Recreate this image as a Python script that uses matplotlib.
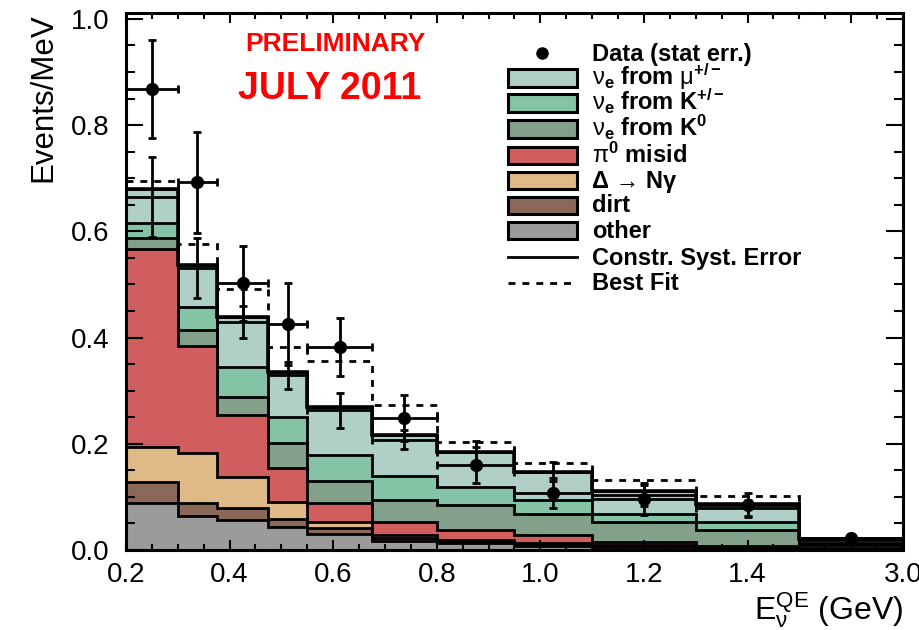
import numpy as np
import matplotlib
matplotlib.use('Agg')
from matplotlib import pyplot as plt
from matplotlib.patches import Rectangle
from matplotlib.lines import Line2D

plt.rcParams['font.family'] = ['Liberation Sans', 'DejaVu Sans']
plt.rcParams['mathtext.fontset'] = 'custom'
plt.rcParams['mathtext.rm'] = 'Liberation Sans'
plt.rcParams['mathtext.bf'] = 'Liberation Sans:bold'
plt.rcParams['mathtext.it'] = 'Liberation Sans:italic'

# bin edges in GeV (last bin 1.5-3.0 is squeezed on the axis)
edges = [0.2, 0.3, 0.375, 0.475, 0.55, 0.675, 0.8, 0.95, 1.1, 1.3, 1.5, 3.0]

# stacked MC components (Events/MeV), bottom to top
other = [0.088, 0.064, 0.056, 0.043, 0.031, 0.017, 0.013, 0.008, 0.005, 0.003, 0.001]
dirt = [0.040, 0.024, 0.023, 0.015, 0.010, 0.006, 0.003, 0.003, 0.002, 0.001, 0.0005]
delta = [0.066, 0.094, 0.058, 0.032, 0.012, 0.005, 0.003, 0.003, 0.002, 0.001, 0.0005]
pi0 = [0.372, 0.203, 0.117, 0.064, 0.035, 0.025, 0.019, 0.014, 0.006, 0.003, 0.001]
nue_k0 = [0.021, 0.030, 0.034, 0.047, 0.042, 0.042, 0.047, 0.040, 0.037, 0.030, 0.007]
nue_kpm = [0.029, 0.042, 0.056, 0.049, 0.048, 0.044, 0.033, 0.027, 0.015, 0.014, 0.004]
nue_mu = [0.064, 0.080, 0.094, 0.085, 0.092, 0.077, 0.066, 0.052, 0.044, 0.034, 0.006]

# constrained systematic error on the prediction
syst_center = [0.665, 0.531, 0.429, 0.329, 0.263, 0.208, 0.184, 0.147, 0.103, 0.079, 0.018]
syst_err = [0.075, 0.057, 0.030, 0.025, 0.033, 0.018, 0.022, 0.018, 0.020, 0.015, 0.005]

best_fit = [0.695, 0.577, 0.492, 0.382, 0.355, 0.273, 0.203, 0.163, 0.132, 0.102, 0.021]

data = [0.868, 0.692, 0.502, 0.425, 0.382, 0.248, 0.160, 0.107, 0.096, 0.085, 0.022]
data_err = [0.093, 0.095, 0.070, 0.077, 0.055, 0.043, 0.033, 0.028, 0.031, 0.022, 0.004]

names = ['other', 'dirt', 'Δ → Nγ',
         r'$\mathrm{\pi}^{\mathbf{0}}$ misid',
         r'$\mathrm{\nu}_{\mathbf{e}}$ from K$^{\mathbf{0}}$',
         r'$\mathrm{\nu}_{\mathbf{e}}$ from K$^{\mathbf{+/-}}$',
         r'$\mathrm{\nu}_{\mathbf{e}}$ from $\mathrm{\mu}^{\mathbf{+/-}}$']
colors = ['#9b9b9b', '#8b6858', '#dfba87', '#d05e5f', '#83a08b', '#84c3a5', '#b0cfc6']


def forward(e):
    e = np.asarray(e, dtype=float)
    return np.where(e <= 1.5, e, 1.5 + (e - 1.5) * 0.2 / 1.5)


def inverse(u):
    u = np.asarray(u, dtype=float)
    return np.where(u <= 1.5, u, 1.5 + (u - 1.5) * 7.5)


def px(x, y):
    # pixel position (from top-left) -> figure fraction
    return x / 920, 1 - y / 630


fig = plt.figure(figsize=(9.2, 6.3), dpi=100)
ax = fig.add_axes([126 / 920, 80 / 630, 777 / 920, 537 / 630])
ax.set_xscale('function', functions=(forward, inverse))

edges_a = np.array(edges)
centers = (edges_a[:-1] + edges_a[1:]) / 2
half = [centers - edges_a[:-1], edges_a[1:] - centers]

comps = [other, dirt, delta, pi0, nue_k0, nue_kpm, nue_mu]
base = np.zeros(len(centers))
for vals, c in zip(comps, colors):
    top = base + np.array(vals)
    ax.stairs(top, edges, baseline=base.copy(), fill=True, color=c, zorder=1)
    ax.stairs(top, edges, baseline=None, color='black', lw=2, zorder=2)
    base = top

ax.stairs(base, edges, baseline=None, color='black', lw=2.6, zorder=3)
ax.stairs(best_fit, edges, baseline=None, color='black', lw=2, ls=(0, (2.5, 2.5)), zorder=3)

ax.errorbar(centers, syst_center, yerr=syst_err, xerr=half, fmt='none', ecolor='black',
            elinewidth=2, capsize=3, capthick=2, zorder=4)
ax.errorbar(centers, data, yerr=data_err, xerr=half, fmt='o', color='black', ms=8.5,
            elinewidth=2, capsize=3, capthick=2, zorder=5)

ax.set_xlim(0.2, 3.0)
ax.set_ylim(0, 1.011)

major_u = np.round(np.arange(0.2, 1.71, 0.2), 2)
ax.set_xticks(inverse(np.round(np.arange(0.2, 1.701, 0.05), 3)), minor=True)
ax.set_xticks(list(inverse(major_u)) + [3.0])
ax.set_xticklabels(['0.2', '0.4', '0.6', '0.8', '1.0', '1.2', '1.4', '', '3.0'])
ax.set_yticks([0, 0.2, 0.4, 0.6, 0.8, 1.0])
ax.set_yticklabels(['0.0', '0.2', '0.4', '0.6', '0.8', '1.0'])
ax.set_yticks(np.arange(0, 1.01, 0.05), minor=True)

ax.tick_params(which='both', direction='in', top=True, right=True, width=1.5, labelsize=20)
ax.tick_params(axis='x', which='major', length=7, pad=9)
ax.tick_params(axis='x', which='minor', length=4)
ax.tick_params(axis='y', which='major', length=12, pad=12)
ax.tick_params(axis='y', which='minor', length=6.5)
for s in ax.spines.values():
    s.set_linewidth(2.2)
    s.set_zorder(6)

ax.set_ylabel('Events/MeV', fontsize=22.5, loc='top', labelpad=9)
ax.set_xlabel(r'E$_{\mathrm{\nu}}^{\mathrm{QE}}$ (GeV)', fontsize=23, loc='right', labelpad=1)

fig.text(*px(335, 44), 'PRELIMINARY', color='red', fontsize=19,
         fontweight='bold', ha='center', va='center')
fig.text(*px(330, 89), 'JULY 2011', color='red', fontsize=27,
         fontweight='bold', ha='center', va='center')

# legend drawn by hand so the rows keep an even spacing
row_y = [53, 78, 103, 129, 155, 180, 205, 230, 257, 283]
x0, x1, tx = 508, 577, 592
labels = ['Data (stat err.)'] + names[::-1] + ['Constr. Syst. Error', 'Best Fit']
for i, (y, lab) in enumerate(zip(row_y, labels)):
    if i == 0:
        fig.add_artist(Line2D([px(542, y)[0]], [px(542, y)[1]], marker='o', color='black', ms=8))
    elif i <= 7:
        c = colors[::-1][i - 1]
        xa, ya = px(x0, y + 8.5)
        fig.add_artist(Rectangle((xa, ya), (x1 - x0) / 920, 17 / 630, facecolor=c,
                                 edgecolor='black', lw=2.2))
    else:
        ls = '-' if i == 8 else (0, (2.5, 2.5))
        fig.add_artist(Line2D([x0 / 920, x1 / 920], [px(0, y)[1]] * 2, color='black',
                              lw=2, ls=ls))
    fig.text(*px(tx, y + 7.5), lab, fontsize=17, fontweight='bold', ha='left', va='baseline')

fig.savefig('out.png', dpi=100)
